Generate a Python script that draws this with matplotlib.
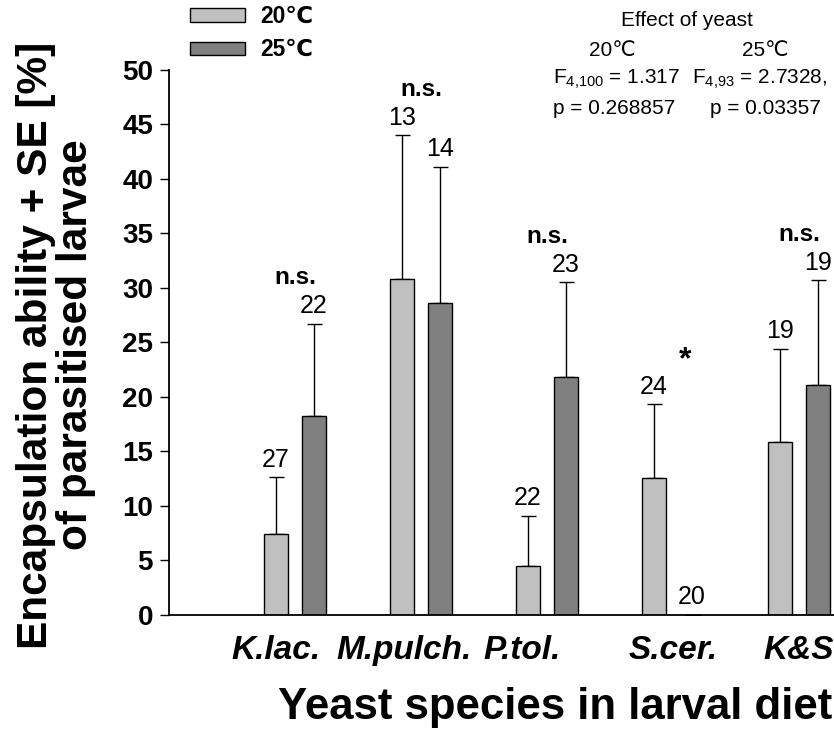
import matplotlib
matplotlib.use("Agg")
import matplotlib.pyplot as plt
import numpy as np

plt.rcParams['font.family'] = ['Liberation Sans', 'DejaVu Sans']
plt.rcParams['mathtext.fontset'] = 'custom'
plt.rcParams['mathtext.rm'] = 'Liberation Sans'
plt.rcParams['mathtext.it'] = 'Liberation Sans:italic'

categories = ["K.lac.", "M.pulch.", "P.tol.", "S.cer.", "K&S"]
mean_20 = [7.4, 30.8, 4.5, 12.5, 15.8]
se_20 = [5.2, 13.2, 4.6, 6.8, 8.6]
mean_25 = [18.2, 28.6, 21.8, 0.0, 21.1]
se_25 = [8.5, 12.5, 8.7, 0.0, 9.6]
n_20 = [27, 13, 22, 24, 19]
n_25 = [22, 14, 23, 20, 19]
signif = ["n.s.", "n.s.", "n.s.", "*", "n.s."]
series_labels = ["20\u2103", "25\u2103"]

# horizontal nudges (points) of the category labels, as placed in the original
label_nudge_pt = [-14, -12, -18, 0, 0]

fig = plt.figure(figsize=(8.34, 7.35), dpi=100)
ax = fig.add_axes([169/834, 1-614.7/735, (925-169)/834, (614.7-69.7)/735])

x = np.arange(1, len(categories)+1)
w = 0.19
off = 0.15
c20, c25 = "#c0c0c0", "#808080"

b1 = ax.bar(x-off, mean_20, w, color=c20, edgecolor="black", linewidth=1.0, label=series_labels[0], zorder=2)
b2 = ax.bar(x+off, mean_25, w, color=c25, edgecolor="black", linewidth=1.0, label=series_labels[1], zorder=2)
ekw = dict(fmt="none", ecolor="black", elinewidth=1.0, capsize=5.4, capthick=1.0, zorder=1)
ax.errorbar(x-off, mean_20, yerr=[np.zeros(5), se_20], **ekw)
ax.errorbar(x+off, mean_25, yerr=[np.zeros(5), se_25], **ekw)

for i in range(len(categories)):
    t20 = mean_20[i] + se_20[i]
    t25 = mean_25[i] + se_25[i]
    ax.annotate(str(n_20[i]), (x[i]-off, t20), xytext=(0, 12.5), textcoords="offset points",
                ha="center", va="center", fontsize=18)
    ax.annotate(str(n_25[i]), (x[i]+off, t25), xytext=(0, 12.5), textcoords="offset points",
                ha="center", va="center", fontsize=18)
    if signif[i] == "*":
        ax.annotate("*", (x[i]+off*0.62, t20), xytext=(0, 32), textcoords="offset points",
                    ha="center", va="center", fontsize=23, fontweight="bold")
    else:
        ax.annotate(signif[i], (x[i], max(t20, t25)), xytext=(0, 33), textcoords="offset points",
                    ha="center", va="center", fontsize=17.5, fontweight="bold")

ax.set_xlim(0, 6)
ax.set_ylim(0, 50)
ax.set_yticks(np.arange(0, 51, 5))
ax.set_xticks(x)
ax.set_xticklabels([])
for xi, cat, dx in zip(x, categories, label_nudge_pt):
    ax.annotate(cat, (xi, 0), xycoords=("data", "axes fraction"), xytext=(dx, -26),
                textcoords="offset points", ha="center", va="center", fontsize=24,
                fontweight="bold", fontstyle="italic", annotation_clip=False)
for lab in ax.get_yticklabels():
    lab.set_fontweight("bold")
    lab.set_fontsize(20)
ax.tick_params(axis="x", length=0)
ax.tick_params(axis="y", direction="out", length=6.5, width=1.0, pad=5)
for s in ["top", "right"]:
    ax.spines[s].set_visible(False)
for s in ["left", "bottom"]:
    ax.spines[s].set_linewidth(1.3)

fig.text(56/834, 1-345/735, "Encapsulation ability + SE [%]\nof parasitised larvae",
         rotation=90, ha="center", va="center", fontsize=30.5, fontweight="bold", linespacing=1.0)
fig.text(555/834, 1-707/735, "Yeast species in larval diet", ha="center", va="center",
         fontsize=31.5, fontweight="bold")

fig.legend(handles=[b1, b2], labels=series_labels, loc="upper left",
           bbox_to_anchor=(190/834, 1-5/735), frameon=False,
           prop={"weight": "bold", "size": 16.5}, handlelength=2.4, handleheight=0.52,
           labelspacing=0.45, handletextpad=0.65, borderaxespad=0, borderpad=0)

fs = 15
fig.text(687/834, 1-21/735, "Effect of yeast", ha="center", va="center", fontsize=fs)
fig.text(612/834, 1-50/735, "20\u2103", ha="center", va="center", fontsize=fs)
fig.text(765/834, 1-50/735, "25\u2103", ha="center", va="center", fontsize=fs)
fig.text(553/834, 1-84/735, r"F$_{4{,}100}$ = 1.317", ha="left", va="baseline", fontsize=fs)
fig.text(692/834, 1-84/735, r"F$_{4{,}93}$ = 2.7328,", ha="left", va="baseline", fontsize=fs)
fig.text(553/834, 1-108/735, "p = 0.268857", ha="left", va="center", fontsize=fs)
fig.text(710/834, 1-108/735, "p = 0.03357", ha="left", va="center", fontsize=fs)

fig.savefig("out.png", dpi=100)
